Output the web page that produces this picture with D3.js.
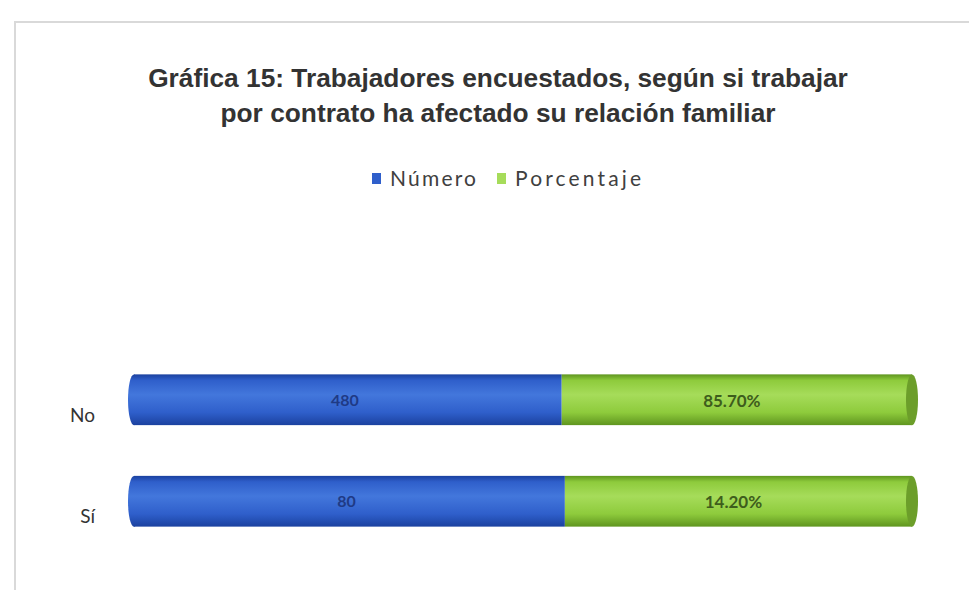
<!DOCTYPE html>
<html>
<head>
<meta charset="utf-8">
<script src="https://cdn.jsdelivr.net/npm/d3@7"></script>
<style>
  html, body { margin: 0; padding: 0; background: #ffffff; }
  svg { display: block; }
</style>
</head>
<body>
<svg id="chart" width="969" height="595"></svg>
<script>
// ---- data ----
const titleLines = ["Gráfica 15: Trabajadores encuestados, según si trabajar", "por contrato ha afectado su relación familiar"];
const categories = ["No", "Sí"];
const seriesNames = ["Número", "Porcentaje"];
const numeroLabels = ["480", "80"];
const porcentajeLabels = ["85.70%", "14.20%"];
// share of each bar occupied by each segment (% of full bar)
const numeroShare = [54.9, 55.3];
const porcentajeShare = [45.1, 44.7];

const colors = {
  blue: { top: "#4377dc", mid: "#2f5fcb", bot: "#1b419f" },
  green: { top: "#a6dc5a", mid: "#8ecb3c", bot: "#5f951f", cap: "#6c9e2a" }
};

const svg = d3.select("#chart");
const defs = svg.append("defs");

function vGrad(id, c) {
  const g = defs.append("linearGradient").attr("id", id)
    .attr("x1", 0).attr("y1", 0).attr("x2", 0).attr("y2", 1);
  g.append("stop").attr("offset", "0%").attr("stop-color", c.bot);
  g.append("stop").attr("offset", "12%").attr("stop-color", c.mid);
  g.append("stop").attr("offset", "40%").attr("stop-color", c.top);
  g.append("stop").attr("offset", "75%").attr("stop-color", c.mid);
  g.append("stop").attr("offset", "100%").attr("stop-color", c.bot);
}
vGrad("gBlue", colors.blue);
vGrad("gGreen", colors.green);

// frame
svg.append("path")
  .attr("d", "M15,590 L15,22 L969,22")
  .attr("fill", "none").attr("stroke", "#d9d9d9").attr("stroke-width", 2);

// title
const title = svg.append("g");
const t1 = title.append("text")
  .attr("x", 498).attr("y", 87)
  .attr("text-anchor", "middle")
  .attr("font-family", "'Liberation Sans', Arial, sans-serif")
  .attr("font-weight", "bold").attr("font-size", 20)
  .attr("fill", "#333333")
  .text(titleLines[0]);
const w1 = t1.node().getComputedTextLength();
const fs = 20 * 700 / w1;
t1.attr("font-size", fs);
title.append("text")
  .attr("x", 498).attr("y", 122)
  .attr("text-anchor", "middle")
  .attr("font-family", "'Liberation Sans', Arial, sans-serif")
  .attr("font-weight", "bold").attr("font-size", fs)
  .attr("fill", "#333333")
  .text(titleLines[1]);

// legend
const legendFont = "Lato, 'Open Sans', sans-serif";
const legendColors = [colors.blue.mid, colors.green.top];
const legendX = [372, 497];
const legendTextW = [86, 126];
const legend = svg.append("g").attr("transform", "translate(0,186)");
const items = legend.selectAll("g").data(seriesNames).join("g")
  .attr("transform", (d, i) => `translate(${legendX[i]},0)`);
items.append("rect")
  .attr("y", -13).attr("width", 9).attr("height", 11)
  .attr("fill", (d, i) => legendColors[i]);
items.append("text")
  .attr("x", 18).attr("y", 0)
  .attr("font-family", legendFont).attr("font-size", 21)
  .attr("fill", "#404040")
  .attr("textLength", (d, i) => legendTextW[i])
  .attr("lengthAdjust", "spacing")
  .text(d => d);

// scales
const x = d3.scaleLinear().domain([0, 100]).range([128, 918]);
const y = d3.scaleBand().domain(categories).range([349, 552])
  .paddingInner(0.5).paddingOuter(0.25);
const bh = y.bandwidth();
const capR = 6;

const rows = categories.map((c, i) => ({
  cat: c, n: numeroShare[i], p: porcentajeShare[i],
  nl: numeroLabels[i], pl: porcentajeLabels[i]
}));

const bars = svg.append("g").selectAll("g").data(rows).join("g")
  .attr("transform", d => `translate(0,${y(d.cat)})`);

// left round end (blue)
bars.append("ellipse")
  .attr("cx", x(0) + capR).attr("cy", bh / 2)
  .attr("rx", capR).attr("ry", bh / 2)
  .attr("fill", "url(#gBlue)");
// blue segment
bars.append("rect")
  .attr("x", x(0) + capR).attr("y", 0)
  .attr("width", d => x(d.n) - x(0) - capR).attr("height", bh)
  .attr("fill", "url(#gBlue)");
// green segment
bars.append("rect")
  .attr("x", d => x(d.n)).attr("y", 0)
  .attr("width", d => x(d.n + d.p) - x(d.n) - capR).attr("height", bh)
  .attr("fill", "url(#gGreen)");
// green cap
bars.append("ellipse")
  .attr("cx", d => x(d.n + d.p) - capR).attr("cy", bh / 2)
  .attr("rx", capR).attr("ry", bh / 2)
  .attr("fill", colors.green.cap);

// value labels
bars.append("text")
  .attr("x", d => (x(0) + x(d.n)) / 2).attr("y", bh / 2 + 6)
  .attr("text-anchor", "middle")
  .attr("font-family", legendFont).attr("font-weight", "bold").attr("font-size", 16)
  .attr("fill", "#1f3a85")
  .text(d => d.nl);
bars.append("text")
  .attr("x", d => (x(d.n) + x(d.n + d.p)) / 2 - 8).attr("y", bh / 2 + 7)
  .attr("text-anchor", "middle")
  .attr("font-family", legendFont).attr("font-weight", "bold").attr("font-size", 17)
  .attr("fill", "#3e5d1c")
  .text(d => d.pl);

// category labels
svg.append("g").selectAll("text").data(categories).join("text")
  .attr("x", 95).attr("y", d => y(d) + bh / 2 + 22)
  .attr("text-anchor", "end")
  .attr("font-family", legendFont).attr("font-size", 19)
  .attr("fill", "#333333")
  .text(d => d);
</script>
</body>
</html>
